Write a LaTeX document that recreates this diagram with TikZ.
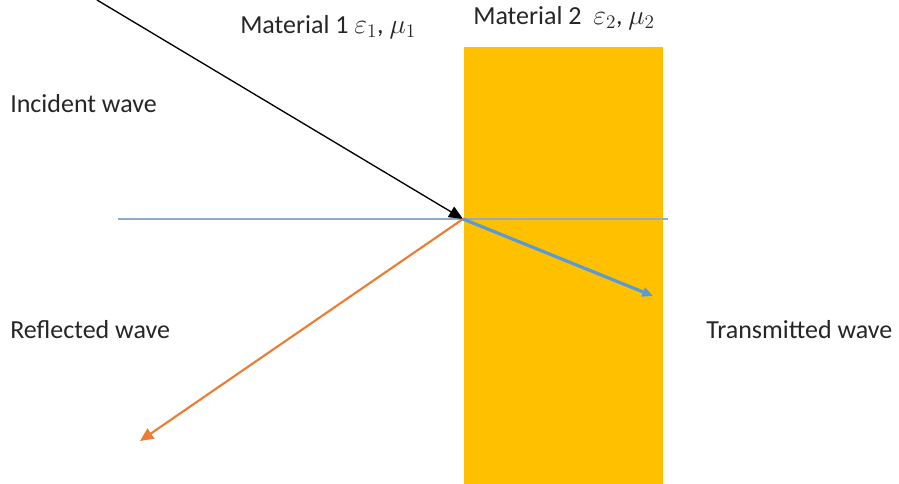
\documentclass[tikz,border=0pt]{standalone}
\usepackage{fontspec}
\setmainfont{Carlito}
\usetikzlibrary{arrows.meta}
\definecolor{gold}{HTML}{FFC000}
\definecolor{tblue}{HTML}{5B9BD5}
\definecolor{lblue}{HTML}{8EADC8}
\definecolor{rorange}{HTML}{ED7D31}
\definecolor{txt}{HTML}{262626}
\begin{document}
\begin{tikzpicture}[x=0.75pt,y=-0.75pt,
  lbl/.style={font=\fontsize{19.5}{22}\selectfont, text=txt, inner sep=0pt, anchor=west},
  ray/.style={-{Triangle[length=10.5pt,width=9pt]}}]
\useasboundingbox (0,0) rectangle (899,484);
\fill[gold] (464,47) rectangle (663,484);
\coordinate (iS) at (97,0);
\coordinate (O) at (463,219);
\coordinate (hL) at (118,219);
\coordinate (hR) at (668,219);
\coordinate (tE) at (653,296);
\coordinate (rE) at (140,441);
\draw[lblue, line width=1pt] (hL) -- (hR);
\draw[black, line width=1pt, ray] (iS) -- (O);
\draw[rorange, line width=1.6pt, -{Triangle[length=10pt,width=9pt]}] (O) -- (rE);
\draw[tblue, line width=2.4pt, -{Triangle[length=8pt,width=7pt]}] (O) -- (tE);
\node[lbl] (m1) at (240,27) {Material 1 $\varepsilon_1$, $\mu_1$};
\node[lbl] (m2) at (473,18) {Material 2\ \ $\varepsilon_2$, $\mu_2$};
\node[lbl] (inc) at (10,104) {Incident wave};
\node[lbl] (refl) at (10,330) {Reflected wave};
\node[lbl] (trans) at (706,330) {Transmitted wave};
\end{tikzpicture}
\end{document}
